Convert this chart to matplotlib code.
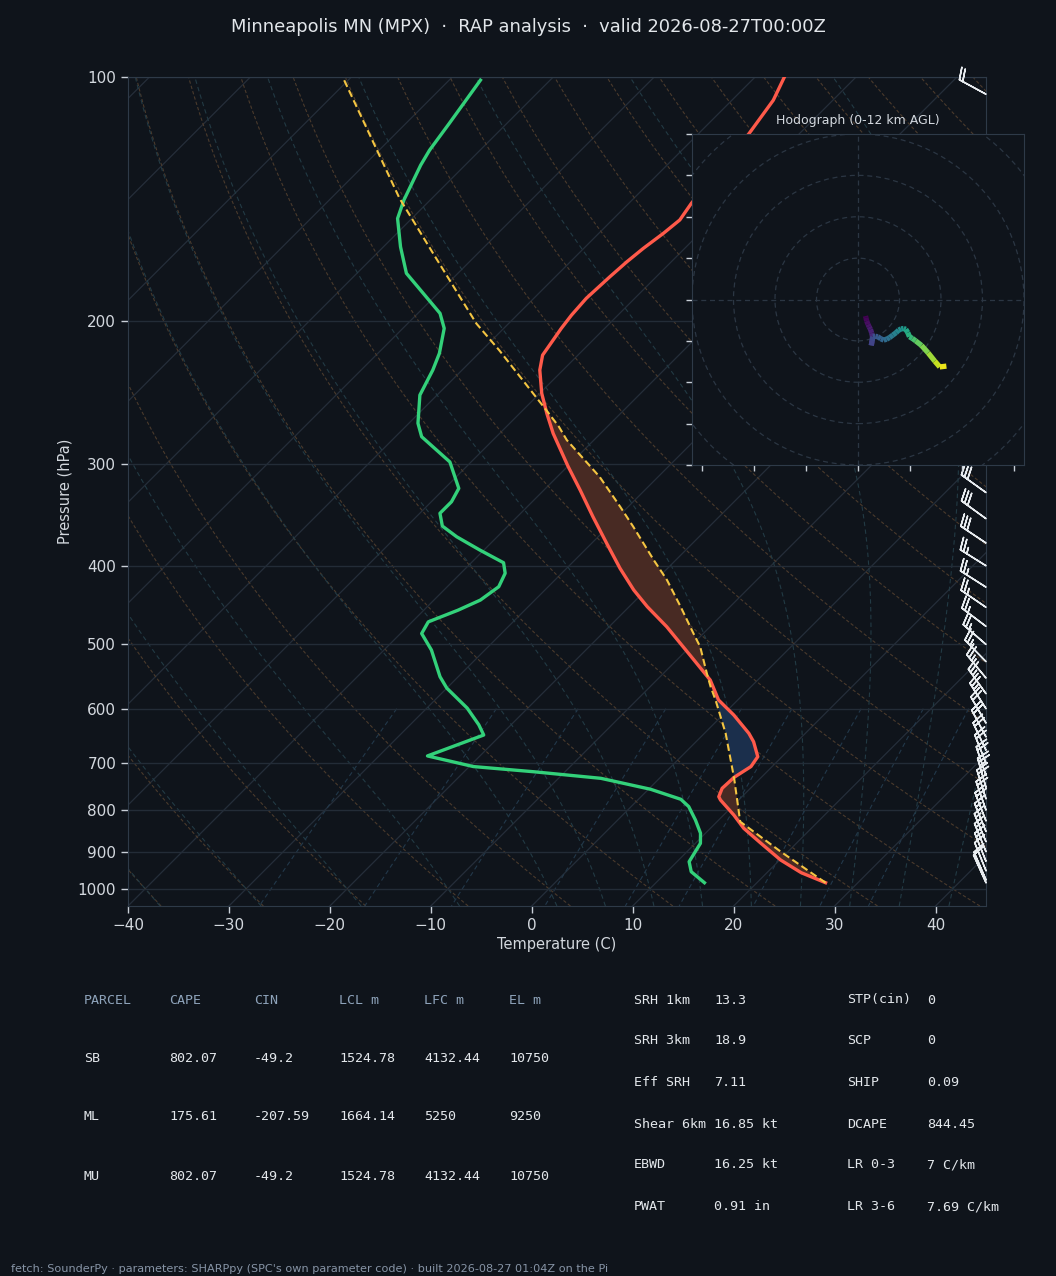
import numpy as np
import matplotlib
matplotlib.use("Agg")
import matplotlib.pyplot as plt
from matplotlib.transforms import Affine2D, blended_transform_factory
from matplotlib.collections import LineCollection
from matplotlib.colors import Normalize
from matplotlib.patches import Circle

# ---------------- data ----------------
title = "Minneapolis MN (MPX)  \u00b7  RAP analysis  \u00b7  valid 2026-08-27T00:00Z"
footer = ("fetch: SounderPy \u00b7 parameters: SHARPpy (SPC's own parameter code) \u00b7 "
          "built 2026-08-27 01:04Z on the Pi")

temp_p = [982.9, 955.4, 921.6, 879, 842.3, 811.1, 777.4, 770.1, 752, 728.9, 707, 687.5,
          658.9, 643.4, 610.9, 585.4, 553.2, 522.6, 475.5, 449.3, 428.5, 403, 375.4,
          348.1, 322.8, 301.5, 274.8, 259.7, 245.3, 229.6, 220.1, 213.9, 204, 196.5,
          187.3, 176.2, 168.9, 162.6, 155.8, 150, 143.1, 129.6, 117.4, 106.8, 100]
temp_c = [26.8, 23.4, 20.1, 16.5, 13.3, 11.0, 8.2, 7.7, 7.2, 7.3, 7.9, 7.6,
          5.7, 4.4, 1.1, -1.9, -4.7, -8.3, -14.3, -18.2, -21.2, -24.7, -28.5,
          -32.5, -36.4, -40.0, -44.7, -47.3, -49.8, -52.3, -53.5, -53.8, -54.3, -54.6,
          -54.8, -54.6, -54.4, -54.1, -53.6, -53.3, -53.8, -54.4, -55.0, -55.9, -57.1]

dewp_p = [982.9, 952.7, 926, 879, 854, 822.8, 792, 775.8, 754, 731, 717.5, 707, 686,
          646.5, 628, 599, 566, 548, 508, 484.8, 469, 453.6, 440.9, 424.5, 408.6, 396.6,
          382.6, 368.5, 357.4, 344.7, 333.6, 321.2, 298, 277.4, 267, 246.5, 229.6, 219,
          204, 195.5, 174.5, 161.9, 149.4, 141.8, 128.4, 123.1, 114.1, 100.9]
dewp_c = [14.8, 12.4, 11.2, 10.5, 9.5, 7.7, 5.7, 4.2, 0.2, -5.8, -13.1, -19.6, -25.2,
          -21.7, -23.2, -26.0, -30.0, -31.8, -35.3, -37.9, -38.4, -36.6, -35.4, -34.9,
          -35.6, -36.8, -40.4, -44.0, -46.5, -48.0, -48.0, -48.6, -52.1, -57.4, -59.1,
          -61.7, -62.9, -63.9, -65.9, -67.8, -75.1, -78.3, -81.4, -82.6, -84.4, -85.0,
          -85.7, -86.9]

parcel_p = [982.9, 900.2, 826.7, 731, 643.4, 585.4, 563.8, 542.8, 503.3, 484.5, 449.3,
            416.5, 393.5, 358.2, 338.3, 310.8, 280, 269.6, 257.2, 217, 201.2, 165, 141.1,
            115.2, 100.9]
parcel_c = [26.8, 19.3, 12.3, 7.4, 2.1, -2.2, -4.0, -5.7, -9.0, -11.0, -14.9,
            -18.9, -22.2, -27.5, -30.8, -35.8, -42.7, -44.8, -47.7, -58.3, -63.2, -74.4,
            -83.2, -93.6, -100.4]
lfc_hpa = 575

wind_p = [982.9, 975, 950, 925, 900, 875, 850, 825, 800, 775, 750, 725, 700, 675, 650,
          625, 600, 575, 550, 525, 500, 475, 450, 425, 400, 375, 350, 325, 300, 275,
          250, 225, 200, 175, 150, 105]
wind_hgt_km = [0.0, 0.07, 0.29, 0.52, 0.75, 0.99, 1.23, 1.48, 1.74, 2.0, 2.26, 2.53,
               2.81, 3.1, 3.39, 3.69, 4.0, 4.32, 4.65, 4.99, 5.34, 5.71, 6.09, 6.49,
               6.91, 7.35, 7.81, 8.3, 8.82, 9.37, 9.96, 10.6, 11.32, 12.0, 13.05,
               15.25]
wind_u_kt = [3.6, 3.8, 4.2, 4.8, 5.4, 6.0, 6.6, 7.0, 6.8, 6.6, 6.4, 6.8, 7.2, 8.4,
             9.6, 11.0, 12.4, 13.8, 15.2, 16.8, 18.4, 19.6, 20.8, 22.0, 23.0, 24.0,
             24.8, 26.2, 27.8, 30.6, 33.8, 37.0, 39.4, 42.6, 30.0, 17.5]
wind_v_kt = [-8.0, -8.8, -10.4, -12.0, -13.2, -14.4, -16.2, -18.0, -19.6, -21.0,
             -22.2, -20.0, -18.0, -17.8, -18.0, -19.0, -19.6, -19.2, -18.4, -17.2,
             -16.0, -14.8, -14.2, -14.0, -14.4, -16.0, -18.0, -18.8, -20.0, -22.2,
             -25.8, -29.8, -32.6, -32.2, -20.0, -9.5]
hodo_top_km = 12.0

table_header = ["PARCEL", "CAPE", "CIN", "LCL m", "LFC m", "EL m"]
table_rows = [["SB", "802.07", "-49.2", "1524.78", "4132.44", "10750"],
              ["ML", "175.61", "-207.59", "1664.14", "5250", "9250"],
              ["MU", "802.07", "-49.2", "1524.78", "4132.44", "10750"]]
params_left = [("SRH 1km", "13.3"), ("SRH 3km", "18.9"), ("Eff SRH", "7.11"),
               ("Shear 6km", "16.85 kt"), ("EBWD", "16.25 kt"), ("PWAT", "0.91 in")]
params_right = [("STP(cin)", "0"), ("SCP", "0"), ("SHIP", "0.09"),
                ("DCAPE", "844.45"), ("LR 0-3", "7 C/km"), ("LR 3-6", "7.69 C/km")]

p_ticks = [100, 200, 300, 400, 500, 600, 700, 800, 900, 1000]
t_ticks = [-40, -30, -20, -10, 0, 10, 20, 30, 40]

# ---------------- style ----------------
BG = "#0f141b"
TXT = "#d3d8de"
SPINE = "#2e3a48"
ISOBAR = "#232c37"
ISOTH = "#252e3a"
DRY = "#4a3a2c"
MOIST = "#223a44"
MIXC = "#22384a"
RED = "#ff5a4a"
GREEN = "#33d17a"
YEL = "#f4c542"
CAPE_C = "#482a23"
CIN_C = "#1b2f4c"

W_PX, H_PX, DPI = 1056, 1276, 100
fig = plt.figure(figsize=(W_PX / DPI, H_PX / DPI), dpi=DPI, facecolor=BG)

rect = [128 / W_PX, 1 - 906 / H_PX, 858 / W_PX, 829 / H_PX]
ax = fig.add_axes(rect, facecolor=BG)
ax.set_yscale("log")
ax.set_xlim(-40, 45)
ax.set_ylim(1050, 100)
shear = np.arctan((rect[3] * H_PX) / (rect[2] * W_PX))
skew = ax.transScale + ax.transLimits + Affine2D().skew(shear, 0) + ax.transAxes

# ---- background lines ----
pb = np.geomspace(1050, 100, 120)
for t in np.arange(-150, 50, 10):
    ax.plot([t, t], [1050, 100], transform=skew, color=ISOTH, lw=0.9, zorder=1)

for t0 in np.arange(-40, 246, 10):
    tt = (t0 + 273.15) * (pb / 1000.0) ** 0.2857 - 273.15
    ax.plot(tt, pb, transform=skew, color=DRY, lw=0.8, ls=(0, (3, 2)), zorder=1)


def moist_profile(t0c, pgrid):
    Rd, Cp, Lv, eps = 287.04, 1005.7, 2.501e6, 0.622

    def f(p, T):
        es = 6.112 * np.exp(17.67 * (T - 273.15) / (T - 29.65))
        rs = eps * es / (p - es)
        return (Rd * T + Lv * rs) / (p * (Cp + Lv * Lv * rs * eps / (Rd * T * T)))

    out = []
    for seg in (np.linspace(1000, pgrid.min(), 400), np.linspace(1000, pgrid.max(), 30)):
        T = t0c + 273.15
        vals = [T]
        for i in range(len(seg) - 1):
            h = seg[i + 1] - seg[i]
            p = seg[i]
            k1 = f(p, T)
            k2 = f(p + h / 2, T + h * k1 / 2)
            k3 = f(p + h / 2, T + h * k2 / 2)
            k4 = f(p + h, T + h * k3)
            T = T + h * (k1 + 2 * k2 + 2 * k3 + k4) / 6
            vals.append(T)
        out.append((seg, np.array(vals) - 273.15))
    p_all = np.concatenate([out[1][0][::-1], out[0][0][1:]])
    t_all = np.concatenate([out[1][1][::-1], out[0][1][1:]])
    return p_all, t_all


moist_t0 = list(range(-40, 0, 10)) + list(range(0, 46, 5))
for t0 in moist_t0:
    pm, tm = moist_profile(t0, pb)
    ax.plot(tm, pm, transform=skew, color=MOIST, lw=0.8, ls=(0, (4, 3)), zorder=1)

mix_w = [0.0004, 0.001, 0.002, 0.004, 0.007, 0.01, 0.016, 0.024, 0.032]
pmx = np.linspace(600, 1050, 40)
for w in mix_w:
    e = pmx * w / (0.622 + w)
    le = np.log(e / 6.112)
    td = 243.5 * le / (17.67 - le)
    ax.plot(td, pmx, transform=skew, color=MIXC, lw=0.8, ls=(0, (4, 3)), zorder=1)

# ---- CAPE / CIN shading ----
pf = np.geomspace(max(parcel_p), min(parcel_p), 900)
lpf = np.log(pf)
t_i = np.interp(lpf, np.log(temp_p[::-1]), temp_c[::-1])
pc_i = np.interp(lpf, np.log(parcel_p[::-1]), parcel_c[::-1])
ax.fill_betweenx(pf, t_i, pc_i, where=pc_i >= t_i, interpolate=True,
                 transform=skew, color=CAPE_C, lw=0, zorder=3)
ax.fill_betweenx(pf, t_i, pc_i, where=(pc_i < t_i) & (pf >= lfc_hpa), interpolate=True,
                 transform=skew, color=CIN_C, lw=0, zorder=3)

# ---- profiles ----
ax.plot(parcel_c, parcel_p, transform=skew, color=YEL, lw=1.5, ls=(0, (3.5, 1.8)), zorder=6)
ax.plot(temp_c, temp_p, transform=skew, color=RED, lw=2.4, zorder=5, solid_joinstyle="round")
ax.plot(dewp_c, dewp_p, transform=skew, color=GREEN, lw=2.4, zorder=5, solid_joinstyle="round")

# ---- barbs ----
btr = blended_transform_factory(ax.transAxes, ax.transData)
ax.barbs(np.ones(len(wind_p)), wind_p, wind_u_kt, wind_v_kt, transform=btr,
         length=6.6, color="#e8ecf0", lw=1.1, clip_on=False, zorder=7)

# ---- axes cosmetics ----
ax.set_yticks(p_ticks, labels=[str(v) for v in p_ticks])
ax.yaxis.set_minor_locator(matplotlib.ticker.NullLocator())
ax.set_xticks(t_ticks)
ax.set_xlim(-40, 45)
ax.set_ylim(1050, 100)
ax.grid(True, axis="y", color=ISOBAR, lw=1.0, zorder=0)
ax.tick_params(colors="#c9d0d8", labelcolor=TXT, labelsize=11, length=5, width=1)
for s in ax.spines.values():
    s.set_color(SPINE)
ax.set_ylabel("Pressure (hPa)", color=TXT, fontsize=10.5, labelpad=4)
ax.set_xlabel("Temperature (C)", color=TXT, fontsize=10.5, labelpad=3)

# ---- hodograph ----
hax = fig.add_axes([692 / W_PX, 1 - 465 / H_PX, 332 / W_PX, 331 / H_PX], facecolor=BG)
hax.set_xlim(-80, 80)
hax.set_ylim(-80, 80)
for r in range(20, 101, 20):
    hax.add_patch(Circle((0, 0), r, fill=False, ls=(0, (4, 3)), ec="#2b3643", lw=0.9))
hax.axhline(0, color="#2b3643", ls=(0, (4, 3)), lw=0.9)
hax.axvline(0, color="#2b3643", ls=(0, (4, 3)), lw=0.9)
hgt = np.array(wind_hgt_km)
sel = hgt <= hodo_top_km
pts = np.column_stack([np.array(wind_u_kt)[sel], np.array(wind_v_kt)[sel]])
segs = np.stack([pts[:-1], pts[1:]], axis=1)
lc = LineCollection(segs, cmap="viridis", norm=Normalize(0, hodo_top_km), lw=3.8,
                    capstyle="butt")
lc.set_array(0.5 * (hgt[sel][:-1] + hgt[sel][1:]))
hax.add_collection(lc)
hax.set_xticks(np.arange(-75, 76, 25))
hax.set_yticks(np.arange(-80, 81, 20))
hax.set_xticklabels([])
hax.set_yticklabels([])
hax.tick_params(colors="#c9d0d8", length=4, width=1)
for s in hax.spines.values():
    s.set_color(SPINE)
hax.set_title("Hodograph (0-12 km AGL)", color=TXT, fontsize=9, pad=7)

# ---- title / table / footer ----
fig.text(528 / W_PX, 1 - 27 / H_PX, title, color="#e2e6ea", fontsize=12.9,
         ha="center", va="center")

mono = "DejaVu Sans Mono"
col_x = [84, 169, 254, 339, 424, 509]
for x, h in zip(col_x, table_header):
    fig.text(x / W_PX, 1 - 1000 / H_PX, h, family=mono, fontsize=9.6, color="#8ea3ba",
             ha="left", va="center")
for row, y in zip(table_rows, [1058, 1117, 1176]):
    for x, val in zip(col_x, row):
        fig.text(x / W_PX, 1 - y / H_PX, val, family=mono, fontsize=9.6, color="#e3e7eb",
                 ha="left", va="center")
row_y = [1000, 1041, 1083, 1124, 1165, 1207]
for (lab, val), y in zip(params_left, row_y):
    fig.text(634 / W_PX, 1 - y / H_PX, lab, family=mono, fontsize=9.6, color="#e3e7eb",
             ha="left", va="center")
    fig.text(714 / W_PX, 1 - y / H_PX, val, family=mono, fontsize=9.6, color="#e3e7eb",
             ha="left", va="center")
for (lab, val), y in zip(params_right, row_y):
    fig.text(847 / W_PX, 1 - y / H_PX, lab, family=mono, fontsize=9.6, color="#e3e7eb",
             ha="left", va="center")
    fig.text(927 / W_PX, 1 - y / H_PX, val, family=mono, fontsize=9.6, color="#e3e7eb",
             ha="left", va="center")

fig.text(11 / W_PX, 1 - 1269 / H_PX, footer, color="#8794a6", fontsize=8.1,
         ha="left", va="center")

fig.savefig("out.png", dpi=DPI, facecolor=BG)
